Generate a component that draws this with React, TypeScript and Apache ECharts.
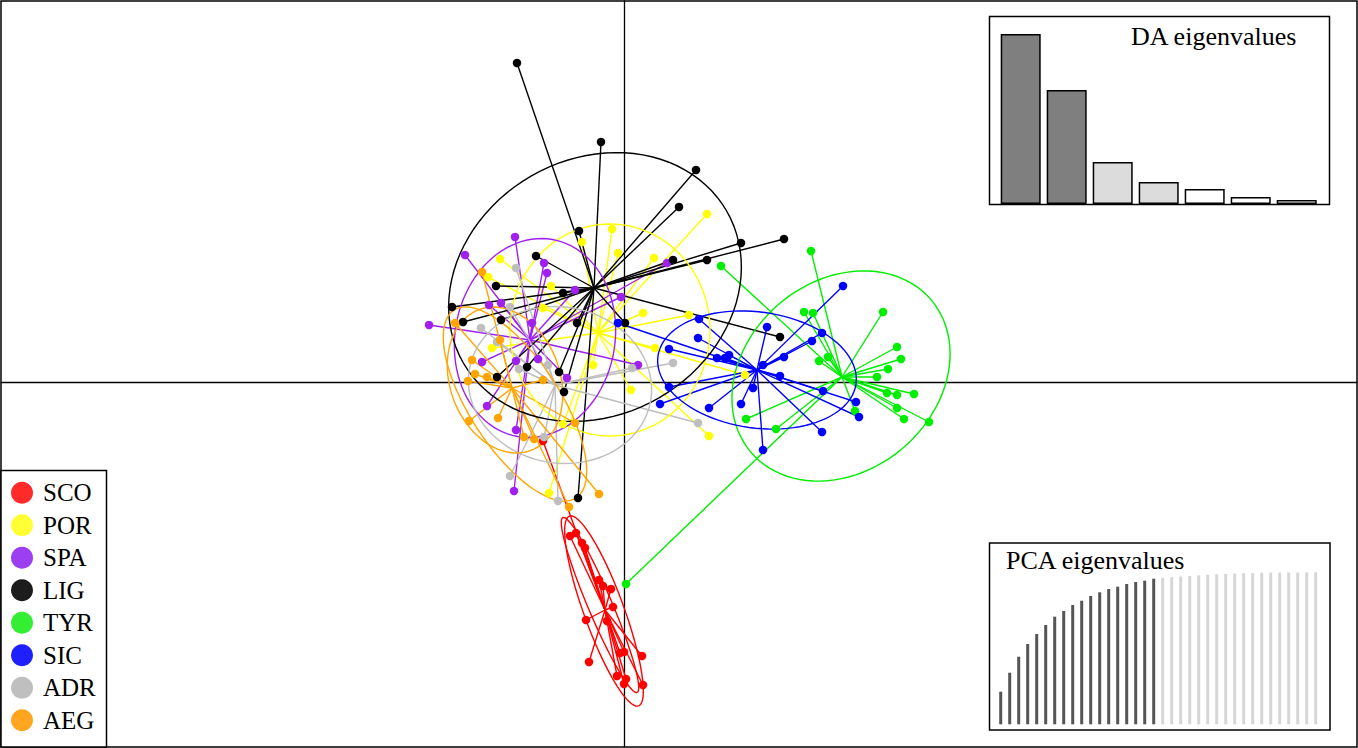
import React, { useEffect, useRef } from "react";
import * as echarts from "echarts";

const groups = ["SCO", "POR", "SPA", "LIG", "TYR", "SIC", "ADR", "AEG"];
const colors = ["#ff0000", "#ffff00", "#a020f0", "#000000", "#00ee00", "#0000ff", "#bebebe", "#ffa500"];
const legendColors = ["#ff2a2a", "#ffff33", "#9b3ff0", "#1c1c1c", "#33ee33", "#1f1fff", "#bfbfbf", "#ffa51f"];

// LD1, LD2 scores per population
const scoPoints = [
  [-0.54, -1.54], [-0.48, -1.51], [-0.42, -1.61], [-0.39, -1.66], [-0.25, -1.98], [-0.21, -2.04],
  [-0.13, -2.07], [-0.11, -2.25], [-0.38, -2.38], [-0.17, -2.39], [-0.04, -2.71], [0.0, -2.7],
  [0.18, -2.74], [-0.35, -2.8], [-0.07, -2.94], [0.02, -2.97], [0.0, -3.02], [0.19, -3.03], [-0.81, -0.59],
];
const porPoints = [
  [0.83, 1.68], [-0.12, 1.53], [-0.06, 1.29], [0.3, 1.24], [-0.42, 1.4], [-1.24, 1.23], [-1.36, 1.05],
  [-0.73, 0.96], [-0.81, 0.74], [-1.32, 0.34], [-0.31, 0.17], [0.19, 0.69], [0.31, 0.34], [0.65, 0.67],
  [0.07, -0.08], [0.85, -0.54], [-0.61, -0.42], [-0.75, -1.11], [1.21, 0.07],
];
const spaPoints = [
  [-1.09, 1.45], [-1.59, 1.27], [-0.8, 1.19], [-0.77, 1.09], [0.43, 1.19], [-1.95, 0.57], [-1.23, 0.79],
  [-1.35, 0.77], [-0.92, 0.59], [-1.42, 0.2], [-1.08, 0.21], [-0.86, 0.23], [-0.57, 0.04], [0.14, 0.17],
  [-1.37, -0.24], [-1.08, -0.48], [-1.1, -1.09], [-0.03, 0.85], [-0.49, 0.92],
];
const ligPoints = [
  [-1.07, 3.19], [-0.23, 2.4], [0.72, 2.12], [0.55, 1.75], [1.17, 1.39], [1.6, 1.43], [0.83, 1.22],
  [0.49, 1.22], [-0.45, 1.51], [-0.88, 1.26], [-1.28, 0.96], [-1.72, 0.75], [-1.61, 0.6], [-1.23, 0.62],
  [-0.61, 0.89], [-0.47, 0.59], [-1.27, 0.05], [-0.97, 0.15], [-0.65, 0.1], [-0.6, -0.1], [0.01, 0.59],
  [-0.46, -1.16], [1.56, 0.45],
];
const tyrPoints = [
  [1.87, 1.31], [0.97, 1.16], [2.59, 0.7], [1.8, 0.7], [1.89, 0.69], [1.95, 0.21], [2.04, 0.25],
  [2.73, 0.35], [2.77, 0.23], [2.64, 0.13], [2.53, 0.05], [2.63, -0.11], [2.73, -0.13], [2.9, -0.12],
  [2.73, -0.26], [2.8, -0.37], [3.05, -0.4], [2.31, -0.29], [1.22, -0.37], [1.52, -0.47], [0.02, -2.02],
];
const sicPoints = [
  [2.19, 0.96], [0.75, 0.63], [0.74, 0.44], [0.45, 0.33], [0.93, 0.24], [1.05, 0.27], [1.43, 0.55],
  [1.6, 0.25], [1.88, 0.41], [1.98, 0.49], [1.39, 0.17], [1.56, 0.06], [1.29, -0.06], [1.17, -0.22],
  [0.85, -0.26], [0.36, -0.22], [0.45, -0.05], [1.99, -0.09], [2.32, -0.2], [2.35, -0.35], [1.98, -0.5],
  [1.39, -0.68], [-0.06, 0.59], [1.01, 0.24],
];
const adrPoints = [
  [-1.08, 1.14], [-1.43, 0.54], [-1.14, 0.75], [-1.27, 0.4], [-1.05, 0.13], [-0.76, 0.17], [0.49, 0.19],
  [0.08, 0.14], [0.74, -0.41], [-0.8, -0.55], [-1.14, -0.94], [-0.66, -1.19],
];
const aegPoints = [
  [-1.52, 0.22], [-1.49, 0.08], [-1.56, 0.01], [-1.37, 0.05], [-1.24, 0.42], [-1.42, 1.1], [-1.55, -0.39],
  [-1.26, -0.36], [-1.0, -0.55], [-0.9, -0.57], [-0.25, -1.12], [-0.55, -1.25], [-0.49, -0.41],
  [-1.69, 0.59], [-0.81, 0.02],
];
const groupPoints = [scoPoints, porPoints, spaPoints, ligPoints, tyrPoints, sicPoints, adrPoints, aegPoints];

// group centroids
const centroids = [
  [-0.19, -2.28], [-0.26, 0.49], [-0.94, 0.42], [-0.3, 0.94], [2.18, 0.05], [1.33, 0.12], [-0.69, -0.03], [-1.12, -0.06],
];

// inertia ellipses: group index, cx, cy, a, b, angle (deg)
const ellipses = [
  [0, -0.2, -2.29, 1.01, 0.2, -70],
  [0, -0.24, -2.23, 0.95, 0.12, -67],
  [1, -0.14, 0.52, 1.0, 1.06, 0],
  [2, -0.89, 0.44, 1.0, 0.8, 80],
  [3, -0.29, 0.95, 1.52, 1.28, 30],
  [4, 2.17, 0.06, 1.18, 0.95, 40],
  [5, 1.33, 0.12, 1.0, 0.58, -8],
  [6, -0.64, -0.03, 0.92, 0.78, -10],
  [7, -1.09, -0.22, 1.12, 0.45, -57],
  [7, -1.19, 0.02, 0.75, 0.55, -70],
];

const daEigen = [170, 114, 42, 22, 15, 7, 4];
const daColors = ["#7f7f7f", "#7f7f7f", "#dcdcdc", "#dcdcdc", "#ffffff", "#ffffff", "#ffffff"];
const pcaEigen = [
  32.6, 51.6, 67.6, 80.3, 90.3, 99.3, 107.6, 113.3, 119.3, 123.6, 128.3, 132, 135.3, 137.6, 140.3, 142.3,
  143.6, 145.6, 146.5, 147.2, 147.8, 148.4, 149, 149.5, 150, 150.4, 150.8, 151.1, 151.3, 151.5, 151.6,
  151.7, 151.8, 151.8, 151.9, 151.9,
];
const pcaRetained = 18;

const FONT = '"Liberation Serif", "DejaVu Serif", serif';

export default function App() {
  const ref = useRef<HTMLDivElement>(null);
  useEffect(() => {
    if (!ref.current) return;
    const chart = echarts.init(ref.current, undefined, { renderer: "svg" });

    const starSeries = groups.map((g, gi) => ({
      name: g + " star",
      type: "custom",
      xAxisIndex: 0,
      yAxisIndex: 0,
      z: 2,
      silent: true,
      data: groupPoints[gi],
      encode: { x: 0, y: 1 },
      renderItem: (params: any, api: any) => {
        const p = api.coord([api.value(0), api.value(1)]);
        const c = api.coord(centroids[gi]);
        return {
          type: "line",
          shape: { x1: p[0], y1: p[1], x2: c[0], y2: c[1] },
          style: { stroke: colors[gi], lineWidth: 1.4 },
        };
      },
    }));

    const ellipseSeries = groups.map((g, gi) => ({
      name: g + " ellipse",
      type: "custom",
      xAxisIndex: 0,
      yAxisIndex: 0,
      z: 3,
      silent: true,
      data: ellipses.filter((e) => e[0] === gi).map((e) => e.slice(1)),
      encode: { x: 0, y: 1 },
      renderItem: (params: any, api: any) => {
        const cx = api.value(0), cy = api.value(1), a = api.value(2), b = api.value(3);
        const th = (api.value(4) * Math.PI) / 180;
        const pts: number[][] = [];
        for (let i = 0; i <= 96; i++) {
          const t = (i / 96) * Math.PI * 2;
          const x = cx + a * Math.cos(t) * Math.cos(th) - b * Math.sin(t) * Math.sin(th);
          const y = cy + a * Math.cos(t) * Math.sin(th) + b * Math.sin(t) * Math.cos(th);
          pts.push(api.coord([x, y]));
        }
        return {
          type: "polyline",
          shape: { points: pts },
          style: { stroke: colors[gi], lineWidth: 1.4, fill: null },
        };
      },
    }));

    const pointSeries = groups.map((g, gi) => ({
      name: g,
      type: "scatter",
      xAxisIndex: 0,
      yAxisIndex: 0,
      z: 4,
      symbol: "circle",
      symbolSize: 8.5,
      data: groupPoints[gi],
      itemStyle: { color: colors[gi], opacity: 1 },
    }));

    const option: any = {
      animation: false,
      color: legendColors,
      grid: [
        { left: 1, top: 1, width: 1356, height: 746, show: true, borderColor: "#000", borderWidth: 1.5, backgroundColor: "#fff" },
        { left: 997.7, top: 16, width: 322, height: 188 },
        { left: 996.2, top: 564.3, width: 324, height: 160 },
      ],
      xAxis: [
        {
          type: "value", gridIndex: 0, min: -6.23, max: 7.33,
          axisLine: { onZero: true, lineStyle: { color: "#000", width: 1.3 } },
          axisTick: { show: false }, axisLabel: { show: false }, splitLine: { show: false },
        },
        { type: "category", gridIndex: 1, data: daEigen.map((_, i) => String(i + 1)), show: false },
        { type: "category", gridIndex: 2, data: pcaEigen.map((_, i) => String(i + 1)), show: false },
      ],
      yAxis: [
        {
          type: "value", gridIndex: 0, min: -3.65, max: 3.81,
          axisLine: { onZero: true, lineStyle: { color: "#000", width: 1.3 } },
          axisTick: { show: false }, axisLabel: { show: false }, splitLine: { show: false },
        },
        { type: "value", gridIndex: 1, min: 0, max: 188, show: false },
        { type: "value", gridIndex: 2, min: 0, max: 160, show: false },
      ],
      legend: {
        data: groups.map((g, gi) => ({ name: g, icon: "circle", itemStyle: { color: legendColors[gi] } })),
        orient: "vertical",
        left: 11,
        top: 480.3,
        height: 290,
        padding: 0,
        itemWidth: 22,
        itemHeight: 22,
        itemGap: 7.5,
        selectedMode: false,
        textStyle: { fontFamily: FONT, fontSize: 25, color: "#000", padding: [0, 0, 0, 5] },
        z: 10,
      },
      title: [
        { text: "DA eigenvalues", left: 1131, top: 23, padding: 0, textStyle: { fontFamily: FONT, fontSize: 26, fontWeight: "normal", color: "#000" }, z: 10 },
        { text: "PCA eigenvalues", left: 1006, top: 547, padding: 0, textStyle: { fontFamily: FONT, fontSize: 26, fontWeight: "normal", color: "#000" }, z: 10 },
      ],
      graphic: [
        { type: "rect", z: 5, shape: { x: 1, y: 470.5, width: 105.5, height: 276.5 }, style: { fill: "#fff", stroke: "#000", lineWidth: 1.5 } },
        { type: "rect", z: 5, shape: { x: 989.5, y: 16.5, width: 340, height: 188 }, style: { fill: "#fff", stroke: "#000", lineWidth: 1.5 } },
        { type: "rect", z: 5, shape: { x: 989.5, y: 543, width: 340.5, height: 187 }, style: { fill: "#fff", stroke: "#000", lineWidth: 1.5 } },
      ],
      series: [
        ...starSeries,
        ...ellipseSeries,
        ...pointSeries,
        {
          name: "DA eigenvalues",
          type: "bar",
          xAxisIndex: 1,
          yAxisIndex: 1,
          z: 8,
          barWidth: 40,
          silent: true,
          data: daEigen.map((v, i) => ({ value: v, itemStyle: { color: daColors[i] } })),
          itemStyle: { borderColor: "#000", borderWidth: 1.5 },
        },
        {
          name: "PCA eigenvalues",
          type: "bar",
          xAxisIndex: 2,
          yAxisIndex: 2,
          z: 8,
          barWidth: 3,
          silent: true,
          data: pcaEigen.map((v, i) => ({ value: v, itemStyle: { color: i < pcaRetained ? "#555555" : "#d6d6d6" } })),
        },
      ],
    };
    chart.setOption(option);
    return () => chart.dispose();
  }, []);
  return <div ref={ref} style={{ position: "fixed", left: 0, top: 0, width: 1358, height: 748, background: "#fff" }} />;
}
